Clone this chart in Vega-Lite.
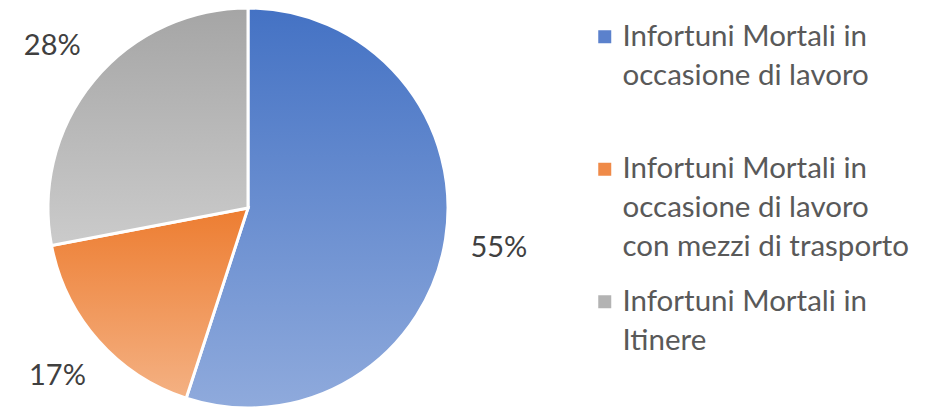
{
  "$schema": "https://vega.github.io/schema/vega-lite/v6.json",
  "width": 496,
  "height": 400,
  "autosize": "none",
  "padding": {"left": 0, "top": 8, "right": 444, "bottom": 0},
  "background": "white",
  "config": {"view": {"stroke": null}, "font": "Lato", "style": {"guide-label": {"lineHeight": 39}}},
  "data": {
    "values": [
      {"cat": "Infortuni Mortali in occasione di lavoro", "pct": 55, "ord": 1, "label": "55%"},
      {"cat": "Infortuni Mortali in occasione di lavoro con mezzi di trasporto", "pct": 17, "ord": 2, "label": "17%"},
      {"cat": "Infortuni Mortali in Itinere", "pct": 28, "ord": 3, "label": "28%"}
    ]
  },
  "encoding": {
    "theta": {"field": "pct", "type": "quantitative", "stack": true},
    "order": {"field": "ord", "type": "quantitative"}
  },
  "layer": [
    {
      "mark": {"type": "arc", "outerRadius": 200},
      "encoding": {
        "color": {
          "field": "cat",
          "type": "nominal",
          "scale": {
            "domain": ["Infortuni Mortali in occasione di lavoro", "Infortuni Mortali in occasione di lavoro con mezzi di trasporto", "Infortuni Mortali in Itinere"],
            "range": ["#5B81CC", "#EF8A48", "#B3B3B3"]
          },
          "legend": {
            "orient": "none",
            "legendX": 590,
            "legendY": 14,
            "title": null,
            "padding": 0,
            "symbolType": "square",
            "symbolSize": 169,
            "symbolStrokeWidth": 0,
            "labelFont": "Lato",
            "labelFontSize": 29.5,
            "labelColor": "#595959",
            "labelLimit": 400,
            "labelOffset": 3,
            "rowPadding": 23.5,
            "gridAlign": "all",
            "labelExpr": "datum.label == 'Infortuni Mortali in occasione di lavoro' ? ['Infortuni Mortali in', 'occasione di lavoro'] : datum.label == 'Infortuni Mortali in Itinere' ? ['Infortuni Mortali in', 'Itinere'] : ['Infortuni Mortali in', 'occasione di lavoro', 'con mezzi di trasporto']"
          }
        }
      }
    },
    {
      "mark": {"type": "arc", "outerRadius": 200, "stroke": "white", "strokeWidth": 3},
      "encoding": {
        "fill": {
          "condition": [
            {"test": "datum.ord == 1", "value": {"gradient": "linear", "x1": 0, "y1": 0, "x2": 0, "y2": 1, "stops": [{"offset": 0, "color": "#4472C4"}, {"offset": 1, "color": "#8FAADC"}]}},
            {"test": "datum.ord == 2", "value": {"gradient": "linear", "x1": 0, "y1": 0, "x2": 0, "y2": 1, "stops": [{"offset": 0, "color": "#ED7D31"}, {"offset": 1, "color": "#F4B183"}]}}
          ],
          "value": {"gradient": "linear", "x1": 0, "y1": 0, "x2": 0, "y2": 1, "stops": [{"offset": 0, "color": "#A5A5A5"}, {"offset": 1, "color": "#CBCBCB"}]}
        }
      }
    },
    {
      "mark": {"type": "text", "radius": 254, "font": "Lato", "fontSize": 29, "color": "#404040"},
      "encoding": {
        "text": {"field": "label"}
      }
    }
  ]
}
